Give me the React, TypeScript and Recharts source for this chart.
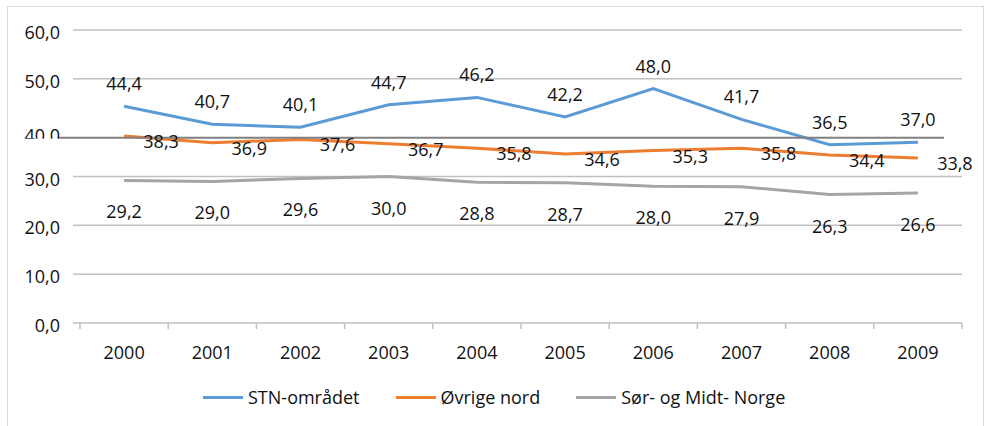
import { LineChart, Line, XAxis, YAxis, ReferenceLine, LabelList } from "recharts";

const years = ["2000", "2001", "2002", "2003", "2004", "2005", "2006", "2007", "2008", "2009"];
const stnOmradet = [44.4, 40.7, 40.1, 44.7, 46.2, 42.2, 48.0, 41.7, 36.5, 37.0];
const ovrigeNord = [38.3, 36.9, 37.6, 36.7, 35.8, 34.6, 35.3, 35.8, 34.4, 33.8];
const sorMidtNorge = [29.2, 29.0, 29.6, 30.0, 28.8, 28.7, 28.0, 27.9, 26.3, 26.6];
const yTicks = [0, 10, 20, 30, 40, 50, 60];
const gridValues = [10, 20, 30, 50, 60];

const FONT = "'Open Sans', sans-serif";
const TEXT = "#111";
const GRID = "#c0c0c0";
const BAND = (962 - 80) / years.length;

const series = [
  { key: "stn", name: "STN-området", color: "#5b9bd5", values: stnOmradet, dx: 0, dy: -23 },
  { key: "ovrige", name: "Øvrige nord", color: "#ed7d31", values: ovrigeNord, dx: 37, dy: 5 },
  { key: "sor", name: "Sør- og Midt- Norge", color: "#a5a5a5", values: sorMidtNorge, dx: 0, dy: 31 },
];

const data = years.map((year, i) => {
  const row: Record<string, string | number> = { year };
  series.forEach((s) => (row[s.key] = s.values[i]));
  return row;
});

const fmt = (v: number) => v.toFixed(1).replace(".", ",");

const labelRenderer = (dx: number, dy: number) => (props: any) => {
  const x = props.x ?? props.viewBox?.x;
  const y = props.y ?? props.viewBox?.y;
  if (x == null || y == null) return null;
  return (
    <text x={x + dx} y={y + dy} textAnchor="middle" dominantBaseline="central" fontFamily={FONT} fontSize={18} fill={TEXT}>
      {fmt(Number(props.value))}
    </text>
  );
};

const XTick = (props: any) => {
  const { x, y, payload, index } = props;
  return (
    <g>
      <line x1={x - BAND / 2} y1={y} x2={x - BAND / 2} y2={y + 6} stroke={GRID} strokeWidth={1.5} />
      {index === years.length - 1 && (
        <line x1={x + BAND / 2} y1={y} x2={x + BAND / 2} y2={y + 6} stroke={GRID} strokeWidth={1.5} />
      )}
      <text x={x} y={y + 36} textAnchor="middle" fontFamily={FONT} fontSize={18} fill={TEXT}>
        {payload.value}
      </text>
    </g>
  );
};

const YTick = (props: any) => {
  const { x, y, payload } = props;
  if (payload.value === 40) {
    // this label sits on the dark line and is cut off under it
    return (
      <g>
        <text x={x - 20} y={y + 14} textAnchor="end" fontFamily={FONT} fontSize={18} fill={TEXT}>
          {fmt(payload.value)}
        </text>
        <rect x={x - 66} y={y + 11} width={46} height={10} fill="#fff" />
      </g>
    );
  }
  return (
    <g>
      <line x1={x - 7} y1={y} x2={x} y2={y} stroke={GRID} strokeWidth={1.5} />
      <text x={x - 20} y={y + 9} textAnchor="end" fontFamily={FONT} fontSize={18} fill={TEXT}>
        {fmt(payload.value)}
      </text>
    </g>
  );
};

export default function App() {
  return (
    <div style={{ position: "absolute", left: 0, top: 0, width: 986, height: 426, overflow: "hidden", background: "#fff" }}>
      <div
        style={{
          position: "absolute",
          left: 7,
          top: 6,
          width: 977,
          height: 440,
          boxSizing: "border-box",
          border: "1px solid #d9d9d9",
        }}
      />
      <div style={{ position: "absolute", left: 0, top: 0 }}>
        <LineChart width={986} height={426} data={data} margin={{ top: 30, right: 24, left: 0, bottom: 0 }}>
          <XAxis
            dataKey="year"
            height={103}
            stroke={GRID}
            strokeWidth={1.5}
            padding={{ left: BAND / 2, right: BAND / 2 }}
            tickLine={false}
            tickSize={0}
            tickMargin={0}
            tick={<XTick />}
            interval={0}
          />
          <YAxis
            width={80}
            domain={[0, 60]}
            ticks={yTicks}
            axisLine={false}
            tickLine={false}
            tickSize={0}
            tickMargin={0}
            tick={<YTick />}
            interval={0}
          />
          {gridValues.map((v) => (
            <ReferenceLine key={v} y={v} stroke={GRID} strokeWidth={1.5} />
          ))}
          {series.map((s) => (
            <Line
              key={s.key}
              dataKey={s.key}
              name={s.name}
              stroke={s.color}
              strokeWidth={3}
              dot={false}
              activeDot={false}
              isAnimationActive={false}
            >
              <LabelList dataKey={s.key} content={labelRenderer(s.dx, s.dy)} />
            </Line>
          ))}
          <ReferenceLine
            y={40}
            ifOverflow="visible"
            shape={(p: any) => (
              <line x1={p.x1 - 22} y1={p.y1 + 10} x2={p.x2 - 18} y2={p.y2 + 10} stroke="#808080" strokeWidth={2} />
            )}
          />
        </LineChart>
      </div>
      <div
        style={{
          position: "absolute",
          left: 203,
          top: 385,
          display: "flex",
          alignItems: "center",
          fontFamily: FONT,
          fontSize: 18,
          color: TEXT,
        }}
      >
        {series.map((s, i) => (
          <div key={s.key} style={{ display: "flex", alignItems: "center", marginLeft: i === 0 ? 0 : 36 }}>
            <div style={{ width: 40, height: 3, background: s.color, marginRight: 5 }} />
            <span>{s.name}</span>
          </div>
        ))}
      </div>
    </div>
  );
}
